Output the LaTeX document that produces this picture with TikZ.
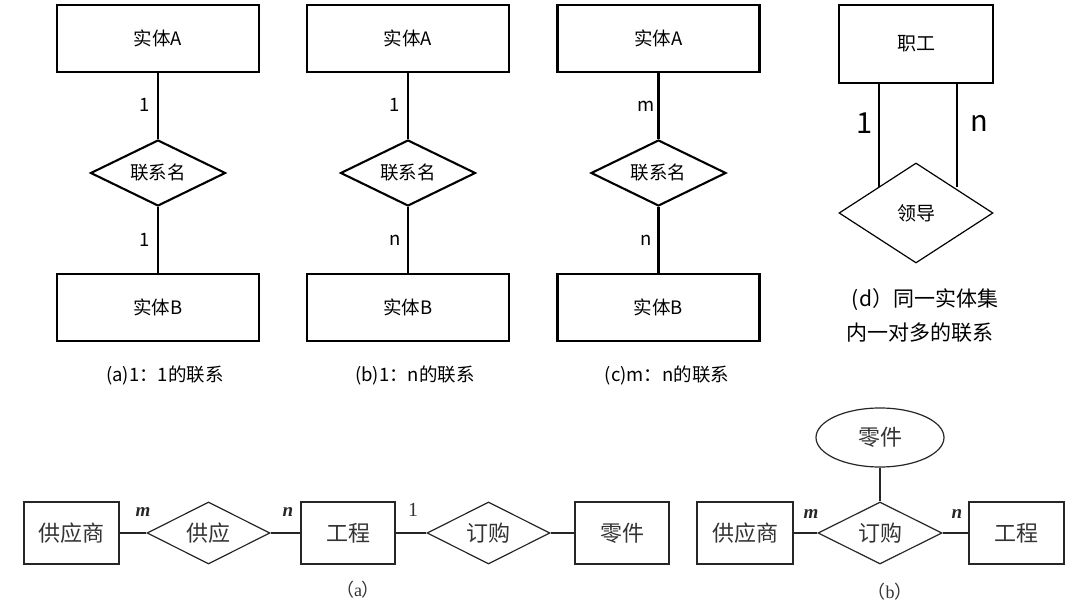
\documentclass[tikz,border=0pt]{standalone}
\usepackage{fontspec}
\setmainfont{Noto Sans CJK SC}
\newfontfamily\cjk{Noto Sans CJK SC}
\newfontfamily\serifl{Liberation Serif}
\usetikzlibrary{shapes.geometric}
\begin{document}
\begin{tikzpicture}[x=1pt,y=-1pt,
  ent/.style={draw,line width=2.1pt,minimum width=202pt,minimum height=67pt,inner sep=0pt,font=\fontsize{18.5}{20}\selectfont},
  rel/.style={draw,diamond,aspect=2,line width=2.1pt,minimum width=135pt,minimum height=66pt,inner sep=0pt,font=\fontsize{18.5}{20}\selectfont},
  lnk/.style={line width=2.1pt},
  lab/.style={font=\fontsize{18.5}{20}\selectfont,inner sep=0pt},
  captxt/.style={font=\fontsize{18.5}{20}\selectfont,inner sep=0pt},
  dent/.style={draw,line width=1.2pt,minimum width=154pt,minimum height=78pt,inner sep=0pt,font=\fontsize{19}{21}\selectfont},
  drel/.style={draw,diamond,aspect=1.54,line width=1.2pt,minimum width=154pt,minimum height=100pt,inner sep=0pt,font=\fontsize{19}{21}\selectfont},
  dlab/.style={font=\fontsize{29}{32}\selectfont,inner sep=0pt},
  dcap/.style={font=\fontsize{21}{24}\selectfont,inner sep=0pt},
  bent/.style={draw=black!85,line width=1.5pt,minimum height=62pt,inner sep=0pt,text=black!80,font=\fontsize{22}{24}\selectfont},
  brel/.style={draw=black!85,diamond,aspect=2,line width=1.2pt,minimum width=123pt,minimum height=62pt,inner sep=0pt,text=black!80,font=\fontsize{22}{24}\selectfont},
  blnk/.style={draw=black!85,line width=1.1pt},
  bcard/.style={font=\serifl\fontsize{19}{20}\selectfont\bfseries\itshape,inner sep=0pt,text=black!85},
  bone/.style={font=\serifl\fontsize{20}{22}\selectfont,inner sep=0pt,text=black!80},
  bcap/.style={font=\fontsize{18}{20}\selectfont,inner sep=0pt,text=black!80}
]
\useasboundingbox (0,0) rectangle (1080,609);
\fill[white] (0,0) rectangle (1080,609);

% ---- (a) 1:1
\node[ent] (aA) at (158,38.5) {实体A};
\node[rel] (aR) at (158,173) {联系名};
\node[ent] (aB) at (158,307.5) {实体B};
\draw[lnk] (aA) -- (aR);
\draw[lnk] (aR) -- (aB);
\node[lab] (aL1) at (145,105) {1};
\node[lab] (aL2) at (145,240) {1};
\node[captxt] (aC) at (165,376) {(a)1：1的联系};

% ---- (b) 1:n
\node[ent] (bA) at (408,38.5) {实体A};
\node[rel] (bR) at (408,173) {联系名};
\node[ent] (bB) at (408,307.5) {实体B};
\draw[lnk] (bA) -- (bR);
\draw[lnk] (bR) -- (bB);
\node[lab] (bL1) at (395,105) {1};
\node[lab] (bL2) at (395,240) {n};
\node[captxt] (bC) at (415,376) {(b)1：n的联系};

% ---- (c) m:n
\node[ent] (cA) at (658.5,38.5) {实体A};
\node[rel] (cR) at (658.5,173) {联系名};
\node[ent] (cB) at (658.5,307.5) {实体B};
\draw[lnk] (cA) -- (cR);
\draw[lnk] (cR) -- (cB);
\node[lab] (cL1) at (646,106) {m};
\node[lab] (cL2) at (646,240) {n};
\node[captxt] (cC) at (667,376) {(c)m：n的联系};

% ---- (d)
\node[dent] (dE) at (916,44) {职工};
\node[drel] (dR) at (916,213) {领导};
\coordinate (d1) at (879,187);
\coordinate (d2) at (957,187);
\draw[line width=1.2pt] (dE.south -| d1) -- (d1);
\draw[line width=1.2pt] (dE.south -| d2) -- (d2);
\node[dlab] (dL1) at (865,123) {1};
\node[dlab] (dL2) at (979,123) {n};
\node[dcap] (dC1) at (925,300) {(d）同一实体集};
\node[dcap] (dC2) at (920,333) {内一对多的联系};

% ---- bottom (a)
\node[bent,minimum width=95pt] (ga) at (71.5,533) {供应商};
\node[brel] (gy) at (208.5,533) {供应};
\node[bent,minimum width=94pt] (gc) at (348,533) {工程};
\node[brel] (dg) at (488.5,533) {订购};
\node[bent,minimum width=94pt] (lj) at (622,533) {零件};
\draw[blnk] (ga) -- (gy);
\draw[blnk] (gy) -- (gc);
\draw[blnk] (gc) -- (dg);
\draw[blnk] (dg) -- (lj);
\node[bcard] (m1) at (143,512) {m};
\node[bcard] (n1) at (288,512) {n};
\node[bone] (o1) at (413,510) {1};
\node[bcap] (capa) at (358,590) {（{\serifl a}）};

% ---- bottom (b)
\node[bent,minimum width=96pt] (ga2) at (745,533) {供应商};
\node[brel,minimum width=124pt] (dg2) at (880,533) {订购};
\node[bent,minimum width=95pt] (gc2) at (1016.5,533) {工程};
\node[draw=black!85,ellipse,line width=1.2pt,minimum width=128pt,minimum height=59pt,inner sep=0pt,text=black!80,font=\fontsize{22}{24}\selectfont] (lj2) at (880,437.5) {零件};
\draw[blnk] (ga2) -- (dg2);
\draw[blnk] (dg2) -- (gc2);
\draw[blnk] (lj2) -- (dg2);
\node[bcard] (m2) at (811,514) {m};
\node[bcard] (n2) at (957,514) {n};
\node[bcap] (capb) at (890,592) {（{\serifl b}）};
\end{tikzpicture}
\end{document}
